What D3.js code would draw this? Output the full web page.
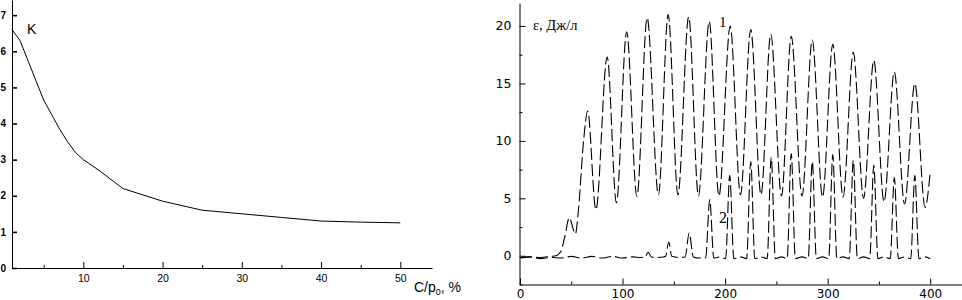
<!DOCTYPE html>
<html>
<head>
<meta charset="utf-8">
<script src="https://cdn.jsdelivr.net/npm/d3@7"></script>
<style>
  body { margin: 0; background: #fff; }
  svg { display: block; }
  .tick line { stroke: #000; }
</style>
</head>
<body>
<div id="chart"></div>
<script>
// left panel: K vs C/p0
var ratioX = [1, 2, 3, 4, 5, 6, 7, 8, 9, 10, 12, 15, 20, 25, 30, 35, 40, 45, 50];
var kValues = [6.6, 6.3, 5.75, 5.2, 4.65, 4.25, 3.85, 3.5, 3.2, 3.0, 2.7, 2.2, 1.85, 1.6, 1.5, 1.4, 1.3, 1.27, 1.25];
var leftMajorX = [10, 20, 30, 40, 50];
var leftMinorX = [5, 15, 25, 35, 45];
var leftTicksY = [0, 1, 2, 3, 4, 5, 6, 7];

// right panel: energy vs time, curve 1 and curve 2
var time1 = [0, 10, 20, 30, 35, 40, 44, 48, 54, 57, 62, 66, 74, 85, 94, 104, 114, 124, 135, 144.5, 154, 164.5, 174, 184.5, 194, 205, 215, 225, 235, 244.5, 255, 264.5, 275, 285, 295, 305, 315, 325, 335, 345, 355, 365, 375, 385, 395, 400];
var eps1 = [-0.15, -0.1, -0.15, -0.05, 0, 0.4, 1.8, 3.3, 1.9, 4.0, 10.0, 12.6, 4.0, 17.3, 4.6, 19.5, 5.15, 20.7, 5.3, 21.0, 5.3, 20.8, 5.2, 20.4, 5.2, 20.0, 5.3, 19.7, 5.3, 19.3, 5.2, 19.1, 5.2, 18.8, 5.1, 18.4, 5.1, 17.7, 5.0, 17.0, 4.7, 16.0, 4.5, 15.0, 4.2, 7.3];
var time2 = [0, 10, 20, 30, 40, 50, 60, 70, 80, 90, 100, 110, 118, 122, 125, 128, 132, 140, 142, 145, 148, 155, 161, 165, 169, 175, 181, 185, 189, 195, 200.5, 204.5, 208.5, 215, 221, 225, 229, 235, 241, 245, 249, 255, 260.5, 264.5, 268.5, 275, 281, 285, 289, 295, 301, 305, 309, 315, 321, 325, 329, 335, 341, 345, 349, 355, 361, 365, 369, 375, 381, 385, 389, 395, 400];
var eps2 = [-0.2, -0.1, -0.25, -0.15, -0.2, -0.05, -0.2, -0.05, -0.2, -0.05, -0.2, -0.1, -0.15, -0.1, 0.3, -0.1, -0.15, -0.1, -0.05, 1.2, -0.05, -0.15, -0.1, 2.0, -0.1, -0.2, -0.2, 4.9, -0.2, -0.1, -0.25, 7.0, -0.25, -0.1, -0.25, 8.2, -0.25, -0.1, -0.25, 8.6, -0.25, -0.1, -0.25, 8.9, -0.25, -0.1, -0.25, 8.2, -0.25, -0.1, -0.25, 8.8, -0.25, -0.1, -0.25, 8.3, -0.25, -0.1, -0.25, 7.9, -0.25, -0.1, -0.25, 6.8, -0.25, -0.1, -0.25, 7.0, -0.25, -0.1, -0.25];
var rightMajorX = [0, 100, 200, 300, 400];
var rightMinorX = [50, 150, 250, 350];
var rightMajorY = [0, 5, 10, 15, 20];
var rightMinorY = [-2.5, 2.5, 7.5, 12.5, 17.5];

function init() {
    var w = 962, h = 300;
    var svg = d3.select("#chart").append("svg")
        .attr("width", w).attr("height", h);
    svg.append("rect").attr("width", w).attr("height", h).attr("fill", "#fff");

    // ---------- left panel ----------
    var x1 = d3.scaleLinear().domain([1, 54]).range([12, 432]);
    var y1 = d3.scaleLinear().domain([0, 7.42]).range([268, 0]);
    var left = svg.append("g");

    left.append("g")
        .attr("transform", "translate(0,268)")
        .call(d3.axisBottom(x1).tickValues(leftMajorX).tickSize(-6).tickSizeOuter(0).tickPadding(7))
        .call(function(g) {
            g.selectAll("text").attr("font-size", 10.5).attr("font-family", "Liberation Sans, Arial, sans-serif");
        });
    left.append("g")
        .attr("transform", "translate(0,268)")
        .call(d3.axisBottom(x1).tickValues(leftMinorX).tickSize(-3).tickFormat(""))
        .call(function(g) { g.select(".domain").remove(); });

    left.append("g")
        .attr("transform", "translate(12,0)")
        .call(d3.axisLeft(y1).tickValues(leftTicksY).tickSize(-5).tickSizeOuter(0).tickPadding(6))
        .call(function(g) {
            g.selectAll(".tick line").attr("stroke-width", 1.6);
            g.selectAll("text").attr("font-size", 10).attr("font-weight", "bold")
                .attr("font-family", "Liberation Sans, Arial, sans-serif");
        });

    var line1 = d3.line()
        .x(function(d, i) { return x1(ratioX[i]); })
        .y(function(d) { return y1(d); });
    left.append("path")
        .datum(kValues)
        .attr("d", line1)
        .attr("fill", "none")
        .attr("stroke", "#000")
        .attr("stroke-width", 1);

    left.append("text").attr("x", 27).attr("y", 34)
        .attr("font-size", 14).attr("font-family", "Liberation Sans, Arial, sans-serif")
        .text("K");

    var xl = left.append("text").attr("x", 414).attr("y", 292)
        .attr("font-size", 14).attr("font-family", "Liberation Sans, Arial, sans-serif");
    xl.append("tspan").text("C/p");
    xl.append("tspan").attr("font-size", 9).attr("dy", 3).text("0");
    xl.append("tspan").attr("dy", -3).text(", %");

    // ---------- right panel ----------
    var x2 = d3.scaleLinear().domain([0, 431]).range([520, 962]);
    var y2 = d3.scaleLinear().domain([-2.5, 22]).range([284.5, 3]);
    var right = svg.append("g");

    right.append("g")
        .attr("transform", "translate(0,284.5)")
        .call(d3.axisBottom(x2).tickValues(rightMajorX).tickSize(-6).tickSizeOuter(0).tickPadding(5))
        .call(function(g) {
            g.selectAll("text").attr("font-size", 12).attr("font-family", "DejaVu Sans, Verdana, sans-serif");
        });
    right.append("g")
        .attr("transform", "translate(0,284.5)")
        .call(d3.axisBottom(x2).tickValues(rightMinorX).tickSize(-3).tickFormat(""))
        .call(function(g) { g.select(".domain").remove(); });

    right.append("g")
        .attr("transform", "translate(519.5,0)")
        .call(d3.axisLeft(y2).tickValues(rightMajorY).tickSize(-6).tickSizeOuter(0).tickPadding(8))
        .call(function(g) {
            g.selectAll("text").attr("font-size", 12.5).attr("font-family", "DejaVu Sans, Verdana, sans-serif");
        });
    right.append("g")
        .attr("transform", "translate(519.5,0)")
        .call(d3.axisLeft(y2).tickValues(rightMinorY).tickSize(-3).tickFormat(""))
        .call(function(g) { g.select(".domain").remove(); });

    var lineA = d3.line()
        .x(function(d, i) { return x2(time1[i]); })
        .y(function(d) { return y2(d); })
        .curve(d3.curveMonotoneX);
    var lineB = d3.line()
        .x(function(d, i) { return x2(time2[i]); })
        .y(function(d) { return y2(d); })
        .curve(d3.curveMonotoneX);

    right.append("path")
        .datum(eps2)
        .attr("d", lineB)
        .attr("fill", "none")
        .attr("stroke", "#000")
        .attr("stroke-width", 1.1)
        .attr("stroke-dasharray", "12,4");

    right.append("path")
        .datum(eps1)
        .attr("d", lineA)
        .attr("fill", "none")
        .attr("stroke", "#000")
        .attr("stroke-width", 1.1)
        .attr("stroke-dasharray", "12,4");

    right.append("text").attr("x", 533).attr("y", 30)
        .attr("font-size", 14.5).attr("font-family", "Liberation Serif, Times New Roman, serif")
        .text("ε, Дж/л");
    right.append("text").attr("x", 719).attr("y", 27)
        .attr("font-size", 15).attr("font-family", "Liberation Serif, Times New Roman, serif")
        .text("1");
    right.append("text").attr("x", 719).attr("y", 223)
        .attr("font-size", 16).attr("font-family", "Liberation Serif, Times New Roman, serif")
        .text("2");
}

window.onload = init;
</script>
</body>
</html>
